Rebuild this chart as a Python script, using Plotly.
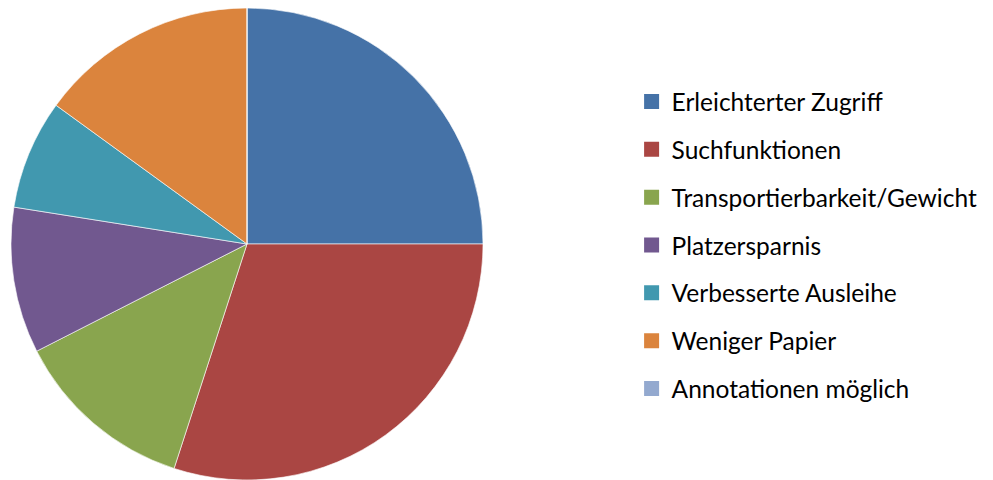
import plotly.graph_objects as go

labels = ["Erleichterter Zugriff", "Suchfunktionen", "Transportierbarkeit/Gewicht",
          "Platzersparnis", "Verbesserte Ausleihe", "Weniger Papier", "Annotationen möglich"]
values = [10, 12, 5, 4, 3, 6, 0]
colors = ["#4572A7", "#AA4643", "#89A54E", "#71588F", "#4198AF", "#DB843D", "#93A9CF"]

fig = go.Figure()
fig.add_trace(go.Pie(
    labels=labels, values=values, sort=False, direction="clockwise", rotation=0,
    marker=dict(colors=colors, line=dict(color="rgba(255,255,255,0.6)", width=1)),
    textinfo="none", showlegend=False,
    domain=dict(x=[3/993, 475/993], y=[8/480, 1]),
))
for i, (lab, col) in enumerate(zip(labels, colors)):
    fig.add_trace(go.Scatter(
        x=[None], y=[None], mode="markers", name=lab, legendgroup=str(i),
        marker=dict(symbol="square", size=15, color=col),
    ))

fig.update_layout(
    width=993, height=480,
    margin=dict(l=0, r=0, t=0, b=0),
    paper_bgcolor="white", plot_bgcolor="white",
    font=dict(family="Lato", size=24.5, color="#000000"),
    xaxis=dict(visible=False), yaxis=dict(visible=False),
    legend=dict(x=0.628, y=1 - 71/480, xanchor="left", yanchor="top",
                traceorder="grouped", tracegroupgap=13, itemclick=False,
                font=dict(size=24.5)),
)
fig.write_html("out.html")
